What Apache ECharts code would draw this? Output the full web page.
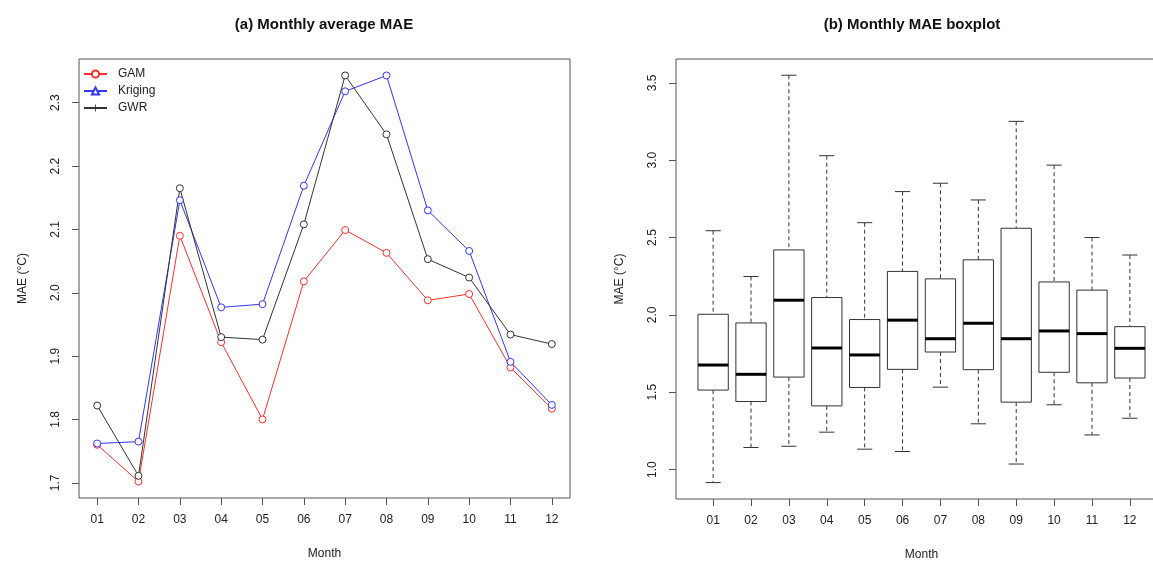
<!DOCTYPE html>
<html>
<head>
<meta charset="utf-8">
<title>Monthly MAE</title>
<script src="https://cdn.jsdelivr.net/npm/echarts@6.0.0/dist/echarts.min.js"></script>
<style>
  html, body { margin: 0; padding: 0; background: #fff; }
  #chart { width: 1153px; height: 564px; }
</style>
</head>
<body>
<div id="chart"></div>
<script>
/* Monthly MAE of the three interpolation methods (left)
*  and the boxplot of the monthly MAE (right)
*/
var months = ['01', '02', '03', '04', '05', '06', '07', '08', '09', '10', '11', '12'];

// (a) monthly average MAE per method
var gam     = [1.760, 1.702, 2.090, 1.922, 1.800, 2.018, 2.099, 2.063, 1.988, 1.998, 1.882, 1.817];
var kriging = [1.762, 1.765, 2.146, 1.977, 1.982, 2.169, 2.318, 2.343, 2.130, 2.066, 1.891, 1.823];
var gwr     = [1.822, 1.711, 2.165, 1.930, 1.926, 2.108, 2.343, 2.250, 2.053, 2.024, 1.934, 1.919];

// (b) boxplot statistics per month
var boxLower  = [0.916, 1.143, 1.151, 1.242, 1.132, 1.117, 1.533, 1.296, 1.036, 1.419, 1.224, 1.332];
var boxQ1     = [1.514, 1.440, 1.598, 1.412, 1.531, 1.648, 1.760, 1.646, 1.436, 1.629, 1.561, 1.592];
var boxMedian = [1.676, 1.616, 2.095, 1.786, 1.741, 1.966, 1.846, 1.946, 1.846, 1.896, 1.879, 1.784];
var boxQ3     = [2.004, 1.948, 2.420, 2.112, 1.970, 2.281, 2.233, 2.356, 2.560, 2.213, 2.160, 1.924];
var boxUpper  = [2.544, 2.248, 3.549, 3.029, 2.596, 2.797, 2.851, 2.743, 3.251, 2.968, 2.500, 2.387];

// tick labels
var leftTicks  = [1.7, 1.8, 1.9, 2.0, 2.1, 2.2, 2.3];
var rightTicks = [1.0, 1.5, 2.0, 2.5, 3.0, 3.5];
var monthTicks = [1, 2, 3, 4, 5, 6, 7, 8, 9, 10, 11, 12];

var FONT = 'Liberation Sans, Arial, Helvetica, sans-serif';
var INK = '#222';
var FRAME = '#555';

var chart = echarts.init(document.getElementById('chart'), null, { renderer: 'canvas' });

/* Shared axis settings: no axis line (the grid border is the frame),
*  outward ticks only at the given values.
*/
function xAxisFor(gridIndex, min, max) {
    return {
        type: 'value', gridIndex: gridIndex, min: min, max: max,
        name: 'Month', nameLocation: 'middle', nameGap: 50,
        nameTextStyle: { fontSize: 12, color: INK, fontFamily: FONT },
        axisLine: { show: false },
        splitLine: { show: false },
        axisTick: { show: true, inside: false, length: 7, customValues: monthTicks,
                    lineStyle: { color: FRAME, width: 1 } },
        axisLabel: { customValues: monthTicks, margin: 16, fontSize: 12, color: INK, fontFamily: FONT,
                     formatter: function (v) { return months[Math.round(v) - 1]; } }
    };
}

function yAxisFor(gridIndex, min, max, ticks) {
    return {
        type: 'value', gridIndex: gridIndex, min: min, max: max,
        name: 'MAE (°C)', nameLocation: 'middle', nameGap: 50, nameRotate: 90,
        nameTextStyle: { fontSize: 12, color: INK, fontFamily: FONT },
        axisLine: { show: false },
        splitLine: { show: false },
        axisTick: { show: true, inside: false, length: 7, customValues: ticks,
                    lineStyle: { color: FRAME, width: 1 } },
        axisLabel: { customValues: ticks, margin: 17, rotate: 90, fontSize: 12, color: INK, fontFamily: FONT,
                     formatter: function (v) { return v.toFixed(1); } }
    };
}

/* One line of panel (a); the series symbol only feeds the legend,
*  every point is an open circle as in the original plot.
*/
function lineSeries(name, values, color, legendSymbol) {
    return {
        name: name, type: 'line', xAxisIndex: 0, yAxisIndex: 0,
        symbol: legendSymbol, symbolSize: 7,
        data: values.map(function (v, i) {
            return { value: [i + 1, v], symbol: 'circle' };
        }),
        lineStyle: { color: color, width: 1 },
        itemStyle: { color: '#fff', borderColor: color, borderWidth: 1 },
        emphasis: { disabled: true },
        z: 3
    };
}

// rows for the boxplot: [month, lower, q1, median, q3, upper]
var boxData = months.map(function (m, i) {
    return [i + 1, boxLower[i], boxQ1[i], boxMedian[i], boxQ3[i], boxUpper[i]];
});

/* R style box: dashed whiskers, short solid staples, thick median */
function renderBox(params, api) {
    var x = api.value(0);
    var lo = api.coord([x, api.value(1)]);
    var q1 = api.coord([x, api.value(2)]);
    var md = api.coord([x, api.value(3)]);
    var q3 = api.coord([x, api.value(4)]);
    var hi = api.coord([x, api.value(5)]);
    var boxW = api.size([0.8, 0])[0];
    var capW = api.size([0.4, 0])[0];
    var cx = lo[0];
    var thin = { stroke: '#333', lineWidth: 1 };
    var dashed = { stroke: '#333', lineWidth: 1, lineDash: [4, 3] };

    return {
        type: 'group',
        children: [
            { type: 'line', shape: { x1: cx, y1: hi[1], x2: cx, y2: q3[1] }, style: dashed },
            { type: 'line', shape: { x1: cx, y1: q1[1], x2: cx, y2: lo[1] }, style: dashed },
            { type: 'line', shape: { x1: cx - capW / 2, y1: hi[1], x2: cx + capW / 2, y2: hi[1] }, style: thin },
            { type: 'line', shape: { x1: cx - capW / 2, y1: lo[1], x2: cx + capW / 2, y2: lo[1] }, style: thin },
            { type: 'rect', shape: { x: cx - boxW / 2, y: q3[1], width: boxW, height: q1[1] - q3[1] },
              style: { fill: '#fff', stroke: '#333', lineWidth: 1 } },
            { type: 'line', shape: { x1: cx - boxW / 2, y1: md[1], x2: cx + boxW / 2, y2: md[1] },
              style: { stroke: '#000', lineWidth: 3 } }
        ]
    };
}

var option = {
    animation: false,
    backgroundColor: '#fff',
    textStyle: { fontFamily: FONT },
    graphic: [
        { type: 'text', x: 324, y: 25,
          style: { text: '(a) Monthly average MAE', align: 'center', verticalAlign: 'middle',
                   font: 'bold 15px ' + FONT, fill: '#111' } },
        { type: 'text', x: 912, y: 25,
          style: { text: '(b) Monthly MAE boxplot', align: 'center', verticalAlign: 'middle',
                   font: 'bold 15px ' + FONT, fill: '#111' } }
    ],
    legend: {
        orient: 'vertical', left: 78, top: 63,
        itemWidth: 23, itemHeight: 9, itemGap: 5,
        selectedMode: false,
        data: [
            { name: 'GAM' },
            { name: 'Kriging' },
            { name: 'GWR', itemStyle: { color: '#333', borderWidth: 0 } }
        ],
        textStyle: { fontSize: 12, color: INK, fontFamily: FONT, padding: [0, 0, 0, 6] }
    },
    grid: [
        { left: 79, top: 59, width: 491, height: 439, show: true, outerBoundsMode: 'none',
          borderColor: FRAME, borderWidth: 1, backgroundColor: 'transparent' },
        { left: 676, top: 59, width: 491, height: 440, show: true, outerBoundsMode: 'none',
          borderColor: FRAME, borderWidth: 1, backgroundColor: 'transparent' }
    ],
    xAxis: [
        xAxisFor(0, 0.56, 12.44),
        xAxisFor(1, 0.02, 12.98)
    ],
    yAxis: [
        yAxisFor(0, 1.676, 2.369, leftTicks),
        yAxisFor(1, 0.81, 3.654, rightTicks)
    ],
    series: [
        lineSeries('GAM', gam, '#ff3030', 'circle'),
        lineSeries('Kriging', kriging, '#3535ff', 'triangle'),
        lineSeries('GWR', gwr, '#333333', 'path://M4.4,0H5.6V4.4H10V5.6H5.6V10H4.4V5.6H0V4.4H4.4Z'),
        {
            name: 'MAE', type: 'custom', xAxisIndex: 1, yAxisIndex: 1,
            data: boxData,
            encode: { x: 0, y: [1, 2, 3, 4, 5] },
            renderItem: renderBox,
            silent: true
        }
    ]
};

chart.setOption(option);
</script>
</body>
</html>
